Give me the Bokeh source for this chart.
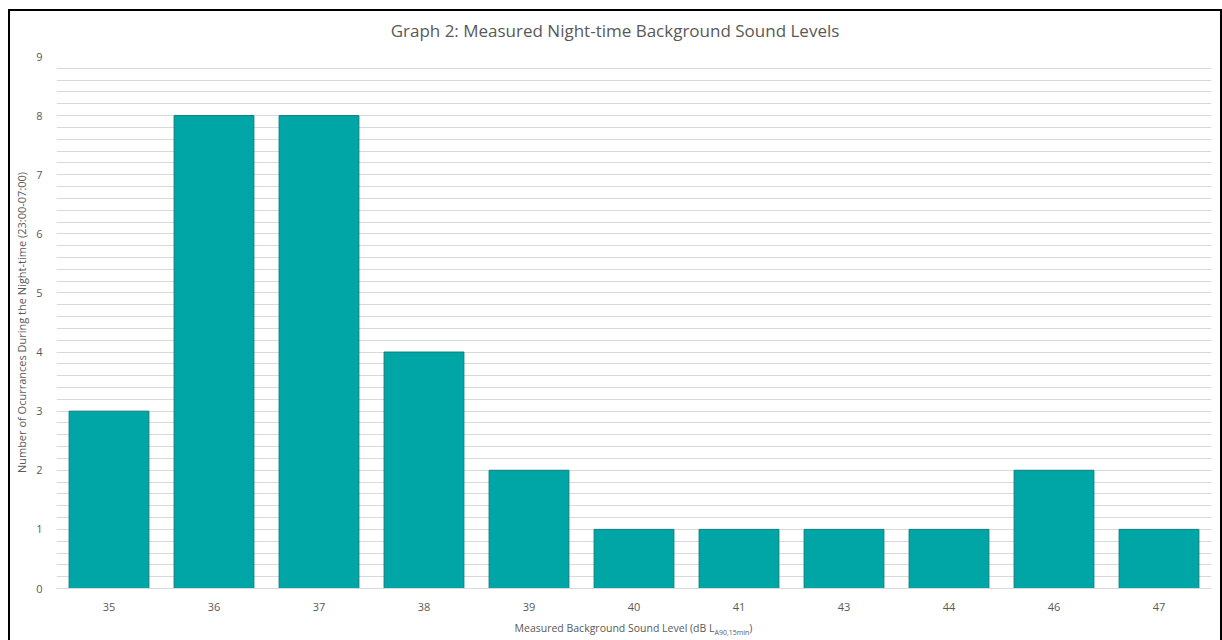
from bokeh.plotting import figure
from bokeh.models import FactorRange, Range1d, SingleIntervalTicker, Div
from bokeh.layouts import column
from bokeh.embed import file_html
from bokeh.resources import INLINE

levels = ["35", "36", "37", "38", "39", "40", "41", "43", "44", "46", "47"]
counts = [3, 8, 8, 4, 2, 1, 1, 1, 1, 2, 1]

title_text = "Graph 2: Measured Night-time Background Sound Levels"
y_label = "Number of Ocurrances During the Night-time (23:00-07:00)"
x_label_main = "Measured Background Sound Level (dB L"
x_label_sub = "A90,15min"
x_label_end = ")"

FONT = "Open Sans"
GREY = "#595959"

title_div = Div(text=(f'<div style="width:1210px;height:35px;line-height:40px;text-align:center;'
                      f'font-family:\'{FONT}\';font-size:17px;color:{GREY};white-space:nowrap;">{title_text}</div>'),
                width=1210, height=35, styles={"margin": "0", "padding": "0"})

p = figure(x_range=FactorRange(*levels), y_range=Range1d(0, 9),
           width=1210, height=571, output_backend="svg", toolbar_location=None,
           min_border_left=46, min_border_right=9, min_border_top=10, min_border_bottom=29)
p.outline_line_color = None
p.background_fill_color = "white"
p.border_fill_color = "white"

p.vbar(x=levels, top=counts, width=0.76, fill_color="#00A6A6", line_color="#0A7F7D", line_width=1)

p.yaxis.ticker = SingleIntervalTicker(interval=1, num_minor_ticks=5)
p.ygrid.grid_line_color = "#D9D9D9"
p.ygrid.minor_grid_line_color = "#D9D9D9"
p.xgrid.grid_line_color = None
p.yaxis.axis_line_color = None
p.yaxis.major_tick_line_color = None
p.yaxis.minor_tick_line_color = None
p.yaxis.major_label_text_font = FONT
p.yaxis.major_label_text_font_size = "11px"
p.yaxis.major_label_text_color = GREY
p.yaxis.major_label_standoff = 8
p.yaxis.axis_label = y_label
p.yaxis.axis_label_text_font = FONT
p.yaxis.axis_label_text_font_size = "11px"
p.yaxis.axis_label_text_font_style = "normal"
p.yaxis.axis_label_text_color = GREY
p.yaxis.axis_label_standoff = 4
p.xaxis.axis_line_color = "#D9D9D9"
p.xaxis.major_tick_line_color = None
p.xaxis.minor_tick_line_color = None
p.xaxis.major_label_text_font = FONT
p.xaxis.major_label_text_font_size = "11px"
p.xaxis.major_label_text_color = GREY
p.xaxis.major_label_standoff = 8

xlabel_div = Div(text=(f'<div style="width:1155px;margin-left:46px;height:23px;line-height:22px;text-align:center;'
                       f'font-family:\'{FONT}\';font-size:10.5px;color:{GREY};white-space:nowrap;">'
                       f'{x_label_main}<sub style="font-size:7px;">{x_label_sub}</sub>{x_label_end}</div>'),
                 width=1210, height=23, styles={"margin": "0", "padding": "0"})

layout = column(title_div, p, xlabel_div, spacing=0,
                styles={"border-left": "2px solid black", "border-top": "2px solid black",
                        "border-right": "2px solid black", "margin-left": "8px", "margin-top": "9px",
                        "background": "white"})

open("out.html", "w").write(file_html(layout, INLINE))
